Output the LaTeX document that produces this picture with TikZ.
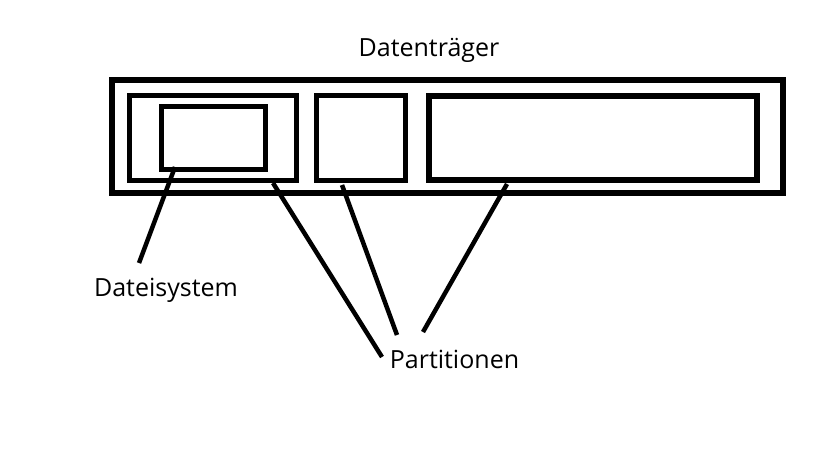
\documentclass[tikz,border=0pt]{standalone}
\usepackage{fontspec}
\setmainfont{Open Sans}
\begin{document}
\begin{tikzpicture}[x=1pt,y=-1pt,
  box/.style={draw=black,line width=5.5pt,inner sep=0pt,minimum width=#1},
  conn/.style={draw=black,line width=4.5pt},
  lbl/.style={font=\fontsize{25}{30}\selectfont,inner sep=0pt,anchor=base}]
\useasboundingbox (0,0) rectangle (819,460);
\node[box=671pt,minimum height=113pt] (disk) at (447.5,136.5) {};
\node[box=167pt,minimum height=85pt] (p1) at (213,138) {};
\node[box=104pt,minimum height=63pt] (fs) at (213.5,138) {};
\node[box=89pt,minimum height=85pt] (p2) at (361,138) {};
\node[box=328pt,minimum height=84pt] (p3) at (593,138) {};
\node[lbl] (title) at (429,57) {Datenträger};
\node[lbl] (dsys) at (166,296) {Dateisystem};
\node[lbl] (part) at (454.5,368) {Partitionen};
\coordinate (fsA) at (175,167);
\coordinate (fsB) at (139,263);
\coordinate (p1A) at (273,183);
\coordinate (p1B) at (382,357);
\coordinate (p2A) at (342,185);
\coordinate (p2B) at (397,335);
\coordinate (p3A) at (507,184);
\coordinate (p3B) at (423,332);
\draw[conn] (fsA) -- (fsB);
\draw[conn] (p1A) -- (p1B);
\draw[conn] (p2A) -- (p2B);
\draw[conn] (p3A) -- (p3B);
\end{tikzpicture}
\end{document}
